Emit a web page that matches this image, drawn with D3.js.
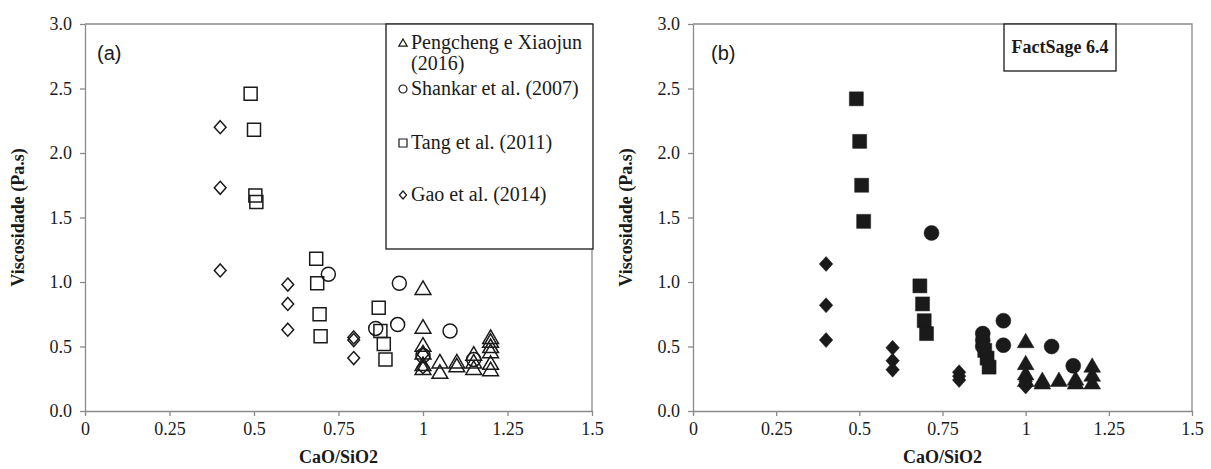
<!DOCTYPE html>
<html>
<head>
<meta charset="utf-8">
<script src="https://cdn.jsdelivr.net/npm/d3@7"></script>
<style>
  body { margin: 0; background: #fff; }
</style>
</head>
<body>
<svg id="chart" width="1211" height="469"></svg>
<script>
// tick values / labels
const xTicks = [0, 0.25, 0.5, 0.75, 1, 1.25, 1.5];
const xTickLabels = ['0', '0.25', '0.5', '0.75', '1', '1.25', '1.5'];
const yTicks = [0, 0.5, 1, 1.5, 2, 2.5, 3];
const yTickLabels = ['0.0', '0.5', '1.0', '1.5', '2.0', '2.5', '3.0'];

// (a) experimental data
const pengchengA = [[1.0, 0.95], [1.0, 0.65], [1.0, 0.51], [1.0, 0.45], [1.0, 0.36], [1.0, 0.33],
  [1.05, 0.38], [1.05, 0.30], [1.1, 0.38], [1.1, 0.35], [1.15, 0.44], [1.15, 0.38], [1.15, 0.33],
  [1.2, 0.57], [1.2, 0.54], [1.2, 0.50], [1.2, 0.46], [1.2, 0.37], [1.2, 0.32]];
const shankarA = [[0.72, 1.06], [0.93, 0.99], [0.925, 0.67], [0.86, 0.64], [1.08, 0.62], [1.15, 0.40], [1.0, 0.43]];
const tangA = [[0.49, 2.46], [0.5, 2.18], [0.504, 1.67], [0.507, 1.62], [0.684, 1.18], [0.687, 0.99],
  [0.694, 0.75], [0.697, 0.58], [0.869, 0.80], [0.874, 0.62], [0.884, 0.52], [0.889, 0.40]];
const gaoA = [[0.4, 2.20], [0.4, 1.73], [0.4, 1.09], [0.6, 0.98], [0.6, 0.83], [0.6, 0.63],
  [0.795, 0.57], [0.795, 0.55], [0.795, 0.41], [1.0, 0.44], [1.0, 0.34]];

// (b) FactSage 6.4
const pengchengB = [[1.0, 0.54], [1.0, 0.37], [1.0, 0.29], [1.0, 0.24], [1.05, 0.24], [1.05, 0.22],
  [1.1, 0.24], [1.15, 0.25], [1.15, 0.22], [1.2, 0.35], [1.2, 0.28], [1.2, 0.22]];
const shankarB = [[0.717, 1.38], [0.871, 0.60], [0.871, 0.55], [0.871, 0.50], [0.933, 0.70],
  [0.933, 0.51], [1.078, 0.50], [1.143, 0.35]];
const tangB = [[0.491, 2.42], [0.501, 2.09], [0.507, 1.75], [0.513, 1.47], [0.682, 0.97], [0.69, 0.83],
  [0.695, 0.70], [0.702, 0.60], [0.877, 0.47], [0.884, 0.41], [0.89, 0.34]];
const gaoB = [[0.4, 1.14], [0.4, 0.82], [0.4, 0.55], [0.6, 0.49], [0.6, 0.39], [0.6, 0.32],
  [0.8, 0.30], [0.8, 0.27], [0.8, 0.24], [1.0, 0.23], [1.0, 0.19]];

const legendNames = ['Pengcheng e Xiaojun', 'Shankar et al. (2007)', 'Tang et al. (2011)', 'Gao et al. (2014)'];

const svg = d3.select('#chart');
const axisColor = '#8a8a8a';
const ink = '#1a1a1a';
const serif = '"Liberation Serif", "Times New Roman", serif';
const sans = '"Liberation Sans", Arial, sans-serif';

// marker paths, r = half size
const shapes = {
  triangle: r => `M0,${-r}L${r * 1.05},${r * 0.8}L${-r * 1.05},${r * 0.8}Z`,
  circle: r => `M${r},0A${r},${r} 0 1,1 ${-r},0A${r},${r} 0 1,1 ${r},0Z`,
  square: r => `M${-r},${-r}H${r}V${r}H${-r}Z`,
  diamond: r => `M0,${-r}L${r * 0.9},0L0,${r}L${-r * 0.9},0Z`
};

function label(x, y, txt, size, opts = {}) {
  return svg.append('text')
    .attr('x', x).attr('y', y)
    .attr('text-anchor', opts.anchor || 'start')
    .style('font-family', opts.font || serif)
    .style('font-size', size + 'px')
    .style('font-weight', opts.bold ? 'bold' : 'normal')
    .style('fill', ink)
    .text(txt);
}

function drawPanel(x0, x1, series, filled) {
  const top = 24, bottom = 411;
  const x = d3.scaleLinear().domain([0, 1.5]).range([x0, x1]);
  const y = d3.scaleLinear().domain([0, 3]).range([bottom, top]);

  // frame top / right
  svg.append('path')
    .attr('d', `M${x0},${top}H${x1}V${bottom}`)
    .attr('fill', 'none').attr('stroke', axisColor).attr('stroke-width', 1.3);

  const gx = svg.append('g')
    .attr('transform', `translate(0,${bottom})`)
    .call(d3.axisBottom(x).tickValues(xTicks).tickFormat((d, i) => xTickLabels[i])
      .tickSizeInner(5).tickSizeOuter(0).tickPadding(6));
  const gy = svg.append('g')
    .attr('transform', `translate(${x0},0)`)
    .call(d3.axisLeft(y).tickValues(yTicks).tickFormat((d, i) => yTickLabels[i])
      .tickSizeInner(5).tickSizeOuter(0).tickPadding(8));
  [gx, gy].forEach(g => {
    g.selectAll('path, line').attr('stroke', axisColor).attr('stroke-width', 1.3);
    g.selectAll('text').style('font-family', serif)
      .style('font-size', '18px').style('fill', ink);
  });

  label((x0 + x1) / 2, 463, 'CaO/SiO2', 18, { anchor: 'middle', bold: true });
  label(0, 0, 'Viscosidade (Pa.s)', 18, { anchor: 'middle', bold: true })
    .attr('transform', `translate(${x0 - 61},${(top + bottom) / 2}) rotate(-90)`);

  series.forEach(s => {
    svg.append('g').selectAll('path')
      .data(s.data)
      .join('path')
        .attr('transform', d => `translate(${x(d[0])},${y(d[1])})`)
        .attr('d', shapes[s.shape](s.r))
        .attr('fill', filled ? ink : 'none')
        .attr('stroke', ink)
        .attr('stroke-width', filled ? 0.5 : 1.5);
  });
  return { x, y };
}

drawPanel(85, 592, [
  { data: gaoA, shape: 'diamond', r: 6.5 },
  { data: tangA, shape: 'square', r: 6.5 },
  { data: shankarA, shape: 'circle', r: 7 },
  { data: pengchengA, shape: 'triangle', r: 7.5 }
], false);

drawPanel(693, 1192, [
  { data: gaoB, shape: 'diamond', r: 7.5 },
  { data: tangB, shape: 'square', r: 7 },
  { data: shankarB, shape: 'circle', r: 7.5 },
  { data: pengchengB, shape: 'triangle', r: 8 }
], true);

// panel labels
label(97, 60, '(a)', 20, { font: sans });
label(711, 60, '(b)', 20, { font: sans });

// legend (a)
svg.append('rect').attr('x', 386).attr('y', 24).attr('width', 207).attr('height', 225)
  .attr('fill', '#fff').attr('stroke', ink).attr('stroke-width', 1.3);
const legendShapes = ['triangle', 'circle', 'square', 'diamond'];
const legendY = [43, 89, 143, 195];
legendNames.forEach((name, i) => {
  svg.append('path')
    .attr('transform', `translate(403,${legendY[i]})`)
    .attr('d', shapes[legendShapes[i]](4))
    .attr('fill', 'none').attr('stroke', ink).attr('stroke-width', 1.2);
  label(411, legendY[i] + 6, name, 20);
});
label(411, 70, '(2016)', 20);

// FactSage box (b)
svg.append('rect').attr('x', 1004).attr('y', 24).attr('width', 112).attr('height', 47)
  .attr('fill', '#fff').attr('stroke', ink).attr('stroke-width', 1.3);
label(1060, 53, 'FactSage 6.4', 18, { anchor: 'middle', bold: true });
</script>
</body>
</html>
